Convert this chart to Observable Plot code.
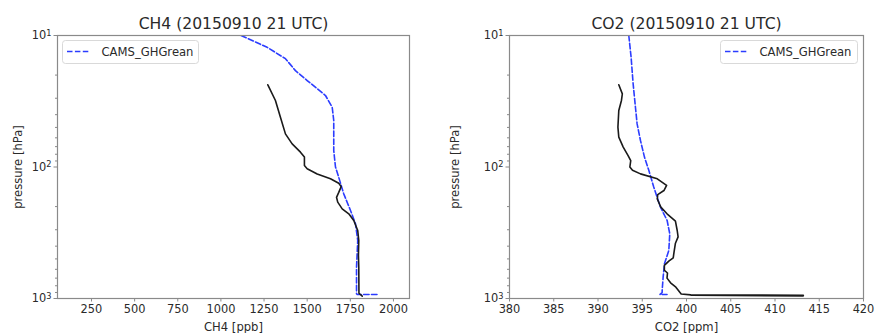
<!DOCTYPE html>
<html>
<head>
<meta charset="utf-8">
<script src="https://cdn.jsdelivr.net/npm/d3@7"></script>
<script src="https://cdn.jsdelivr.net/npm/@observablehq/plot@0.6"></script>
<style>
  html, body { margin: 0; padding: 0; background: #fff; }
  #wrap { width: 875px; height: 333px; display: flex; overflow: hidden; }
  svg { font-family: "DejaVu Sans", sans-serif; }
</style>
</head>
<body>
<div id="wrap"></div>
<script>
// ---------- data ----------
const legendLabel = "CAMS_GHGrean";
const ch4Title = "CH4 (20150910 21 UTC)";
const co2Title = "CO2 (20150910 21 UTC)";
const ch4XLabel = "CH4 [ppb]";
const co2XLabel = "CO2 [ppm]";
const yLabel = "pressure [hPa]";

const ch4XTicks = [250, 500, 750, 1000, 1250, 1500, 1750, 2000];
const co2XTicks = [380, 385, 390, 395, 400, 405, 410, 415, 420];
const yMajorTicks = [10, 100, 1000];
const yMajorExponents = ["1", "2", "3"];
const yMinorTicks = [20, 30, 40, 50, 60, 70, 80, 90, 200, 300, 400, 500, 600, 700, 800, 900];

// CH4 observed profile (black)
const ch4ObsValue = [1272, 1316, 1345, 1374, 1413, 1461, 1484, 1484, 1500, 1558, 1635, 1683, 1697, 1683, 1670, 1677, 1703, 1741, 1770, 1793, 1799, 1797, 1799, 1800, 1819];
const ch4ObsPress = [23.7, 31.2, 41.8, 56.0, 66.7, 77.1, 84.1, 97.5, 103, 113, 123, 133, 141, 156, 170, 185, 208, 227, 255, 304, 362, 470, 578, 912, 960];
// CH4 CAMS_GHGrean (blue dashed)
const ch4CamsValue = [1117, 1268, 1374, 1432, 1500, 1606, 1645, 1654, 1654, 1664, 1683, 1712, 1751, 1780, 1793, 1786, 1786, 1790, 1906];
const ch4CamsPress = [10, 12.3, 15.0, 18.5, 22.0, 28.6, 35.1, 44.3, 75, 100, 120, 160, 214, 270, 362, 578, 920, 933, 933];

// CO2 observed profile (black)
const co2ObsValue = [392.35, 392.75, 392.65, 392.35, 392.25, 392.35, 392.85, 393.4, 393.7, 393.6, 393.9, 394.8, 396.7, 397.75, 397.45, 396.75, 396.7, 397.1, 397.8, 398.75, 398.95, 399.05, 398.75, 398.6, 398.5, 398.0, 397.5, 397.5, 397.85, 397.8, 398.2, 398.8, 399.2, 399.4, 400.5, 413.2, 413.2, 400.5];
const co2ObsPress = [23.7, 27.8, 31.2, 37.2, 49.8, 59.3, 70.6, 81.8, 89.3, 100, 106, 112.8, 123, 138, 151, 162, 175, 202, 227, 258, 304, 340, 380, 440, 490, 520, 560, 610, 640, 700, 760, 820, 890, 925, 938, 945, 955, 945];
// CO2 CAMS_GHGrean (blue dashed)
const co2CamsValue = [393.48, 393.74, 393.97, 394.23, 394.42, 394.8, 395.25, 395.74, 396.3, 397.06, 397.81, 398.11, 398.0, 397.51, 397.36, 397.25, 397.25, 397.0, 397.8];
const co2CamsPress = [10, 14.6, 23.3, 35.1, 47, 62.9, 84.1, 106, 142, 202, 255, 322, 432, 545, 688, 869, 900, 933, 933];

// ---------- styles ----------
const blue = "#2b3cff";
const black = "#1a1a1a";
const frameGray = "#8a8a8a";
const textColor = "#2a2a2a";

function rows(xs, ys) { return xs.map((v, i) => ({v, p: ys[i]})); }

function makePanel({width, ml, mr, xDomain, xTicks, title, xLabel, obs, cams, legendX, legendW}) {
  const mt = 35, mb = 35, h = 333;
  const svg = Plot.plot({
    width, height: h,
    marginLeft: ml, marginRight: mr, marginTop: mt, marginBottom: mb,
    style: {fontFamily: "DejaVu Sans, sans-serif", color: textColor, background: "#fff"},
    x: {domain: xDomain},
    y: {type: "log", domain: [10, 1000], reverse: true},
    marks: [
      Plot.axisX(xTicks, {tickSize: 3.5, tickPadding: 3, fontSize: 11.4, stroke: frameGray, fill: textColor, label: null, tickFormat: d => String(d)}),
      Plot.axisY(yMajorTicks, {tickSize: 3.5, tickPadding: 2.5, fontSize: 11.4, stroke: frameGray, fill: textColor, label: null,
        className: "ymajor", tickFormat: d => "10^" + yMajorExponents[yMajorTicks.indexOf(d)]}),
      Plot.axisY(yMinorTicks, {tickSize: 2, stroke: frameGray, label: null, tickFormat: () => ""}),
      Plot.line(rows(cams[0], cams[1]), {x: "v", y: "p", stroke: blue, strokeWidth: 1.6, strokeDasharray: "5.5,2.4", clip: true}),
      Plot.line(rows(obs[0], obs[1]), {x: "v", y: "p", stroke: black, strokeWidth: 1.6, clip: true}),
      Plot.frame({stroke: frameGray, strokeWidth: 1.2}),
      Plot.text([title], {frameAnchor: "top", dy: -12, fontSize: 15.6, fill: textColor, lineAnchor: "middle"}),
      Plot.text([xLabel], {frameAnchor: "bottom", dy: 29, fontSize: 11.6, fill: textColor, lineAnchor: "middle"}),
      Plot.text([yLabel], {frameAnchor: "left", dx: -(ml - 18), rotate: -90, fontSize: 11.6, fill: textColor, lineAnchor: "middle", textAnchor: "middle"})
    ]
  });
  // superscript exponents on the log-axis tick labels
  d3.select(svg).selectAll("text").each(function () {
    const t = this.textContent;
    const m = /^10\^(\d)$/.exec(t);
    if (m) {
      const sel = d3.select(this);
      sel.text("");
      sel.append("tspan").text("10");
      sel.append("tspan").attr("dy", "-0.42em").attr("font-size", "0.72em").text(m[1]);
    }
  });
  // legend
  const g = d3.select(svg).append("g").attr("text-anchor", "start");
  g.append("rect").attr("x", legendX).attr("y", 40.5).attr("width", legendW).attr("height", 23)
    .attr("rx", 3).attr("fill", "#fff").attr("fill-opacity", 0.8).attr("stroke", "#d9d9d9");
  g.append("line").attr("x1", legendX + 4.5).attr("x2", legendX + 27).attr("y1", 51.5).attr("y2", 51.5)
    .attr("stroke", blue).attr("stroke-width", 1.6).attr("stroke-dasharray", "5.5,2.4");
  g.append("text").attr("x", legendX + 39).attr("y", 52).attr("dy", "0.35em").attr("text-anchor", "start")
    .attr("font-size", 11.6).attr("fill", textColor).text(legendLabel);
  return svg;
}

const wrap = document.getElementById("wrap");
wrap.appendChild(makePanel({
  width: 437, ml: 57, mr: 28, xDomain: [53, 2093], xTicks: ch4XTicks,
  title: ch4Title, xLabel: ch4XLabel,
  obs: [ch4ObsValue, ch4ObsPress], cams: [ch4CamsValue, ch4CamsPress],
  legendX: 62.5, legendW: 136
}));
wrap.appendChild(makePanel({
  width: 438, ml: 72, mr: 12, xDomain: [380, 420], xTicks: co2XTicks,
  title: co2Title, xLabel: co2XLabel,
  obs: [co2ObsValue, co2ObsPress], cams: [co2CamsValue, co2CamsPress],
  legendX: 283.5, legendW: 137
}));
</script>
</body>
</html>
